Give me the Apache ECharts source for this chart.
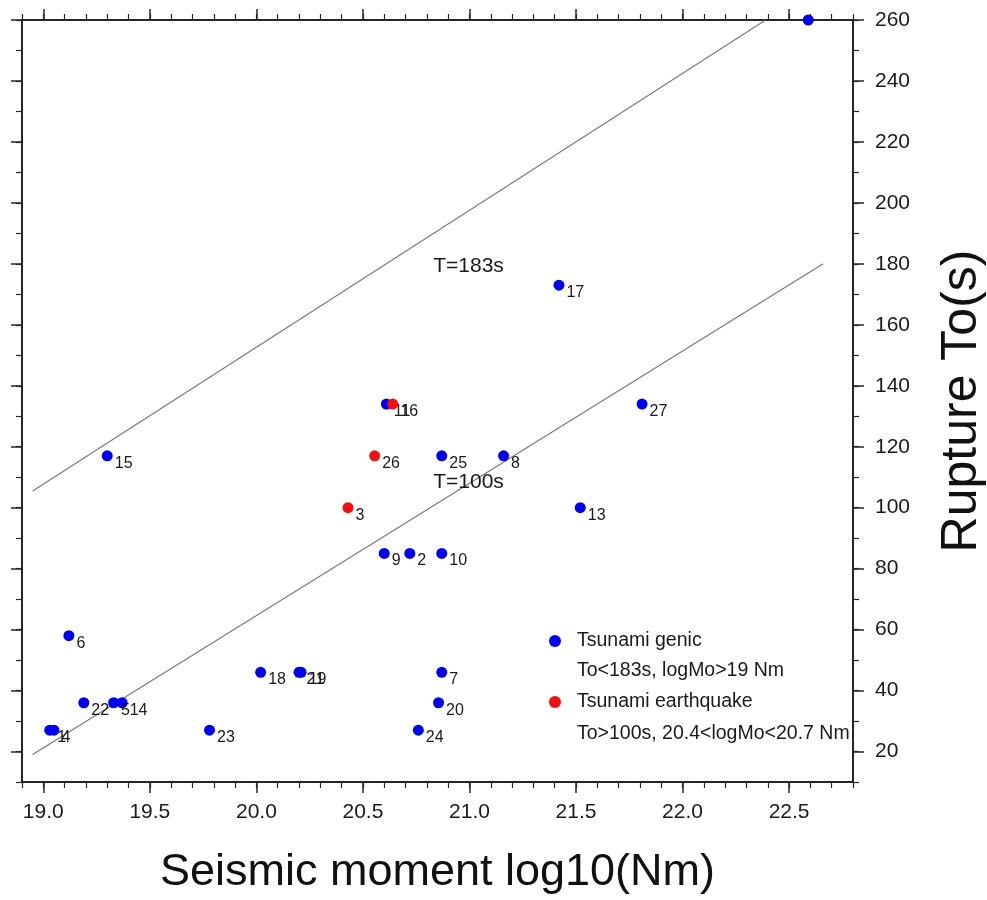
<!DOCTYPE html>
<html>
<head>
<meta charset="utf-8">
<script src="https://cdn.jsdelivr.net/npm/echarts@6/dist/echarts.min.js"></script>
<style>html,body{margin:0;padding:0;background:#fff}#c{width:987px;height:900px}</style>
</head>
<body>
<div id="c"></div>
<script>
// ---- data ----
var genicIds = ['1','2','4','5','6','7','8','9','10','11','12','13','14','15','17','18','19','20','21','22','23','24','25','27'];
var genicX   = [19.03,20.72,19.05,19.33,19.12,20.87,21.16,20.60,20.87,20.61,22.59,21.52,19.37,19.30,21.42,20.02,20.21,20.855,20.20,19.19,19.78,20.76,20.87,21.81];
var genicY   = [27,85,27,36,58,46,117,85,85,134,260,100,36,117,173,46,46,36,46,36,27,27,117,134];
var quakeIds = ['3','16','26'];
var quakeX   = [20.43,20.64,20.555];
var quakeY   = [100,134,117];
var line183X = [18.95,22.39];
var line183Y = [105.5,260];
var line100X = [18.95,22.66];
var line100Y = [19,180];
var lineLabels = ['T=183s','T=100s'];
var lineLabelX = [20.83,20.83];
var lineLabelY = [179.3,108.5];
var xMajorTicks = [19.0,19.5,20.0,20.5,21.0,21.5,22.0,22.5];
var yMajorTicks = [20,40,60,80,100,120,140,160,180,200,220,240,260];
var hiddenLabelIds = ['12'];
var legendNames = ['Tsunami genic','Tsunami earthquake'];
var legendSubs = ['To<183s, logMo>19 Nm','To>100s, 20.4<logMo<20.7 Nm'];

// ---- chart ----
var FONT = '"Liberation Sans", Arial, Helvetica, sans-serif';
var chart = echarts.init(document.getElementById('c'), null, {renderer:'canvas'});

function pts(ids, xs, ys){
  return ids.map(function(id,i){
    return {name:id, value:[xs[i], ys[i]], label:{show: hiddenLabelIds.indexOf(id) < 0}};
  });
}
function pairs(xs, ys){ return xs.map(function(x,i){return [x, ys[i]];}); }

var X_MIN = 18.9, X_MAX = 22.8, Y_MIN = 10, Y_MAX = 260;
var INK = '#262626';
var frame = {show:true, lineStyle:{color:INK, width:2}};
function xMajor(pos, labels){
  return {type:'value', position:pos, min:X_MIN, max:X_MAX, splitLine:{show:false},
    axisLine: frame,
    axisTick:{show:true, customValues:xMajorTicks, length:11, lineStyle:{color:INK, width:1.5}},
    axisLabel: labels ? {show:true, customValues:xMajorTicks, formatter:function(v){return v.toFixed(1);}, fontSize:21, color:'#1a1a1a', fontFamily:FONT, margin:20} : {show:false}
  };
}
function xMinor(pos){
  return {type:'value', position:pos, min:X_MIN, max:X_MAX, interval:0.1, splitLine:{show:false},
    axisLine:{show:false}, axisTick:{show:true, length:6, lineStyle:{color:INK, width:1.2}}, axisLabel:{show:false}};
}
function yMajor(pos, labels){
  return {type:'value', position:pos, min:Y_MIN, max:Y_MAX, splitLine:{show:false},
    axisLine: frame,
    axisTick:{show:true, customValues:yMajorTicks, length:11, lineStyle:{color:INK, width:1.5}},
    axisLabel: labels ? {show:true, customValues:yMajorTicks, fontSize:21, color:'#1a1a1a', fontFamily:FONT, margin:22} : {show:false}
  };
}
function yMinor(pos){
  return {type:'value', position:pos, min:Y_MIN, max:Y_MAX, interval:10, splitLine:{show:false},
    axisLine:{show:false}, axisTick:{show:true, length:6, lineStyle:{color:INK, width:1.2}}, axisLabel:{show:false}};
}

var xb = xMajor('bottom', true);
xb.name = 'Seismic moment log10(Nm)';
xb.nameLocation = 'middle';
xb.nameGap = 68;
xb.nameTextStyle = {fontSize:45, color:'#111', fontFamily:FONT};
var yr = yMajor('right', true);
yr.name = 'Rupture To(s)';
yr.nameLocation = 'middle';
yr.nameRotate = 90;
yr.nameGap = 84;
yr.nameTextStyle = {fontSize:50, color:'#111', fontFamily:FONT};

var pointLabel = {show:true, position:[13,5], align:'left', verticalAlign:'top', fontSize:16, color:'#1a1a1a', opacity:1, fontFamily:FONT,
  formatter:function(p){return p.name;}};

var option = {
  animation:false,
  backgroundColor:'#fff',
  grid:{left:22, right:134, top:20, bottom:118, containLabel:false, outerBoundsMode:'none'},
  xAxis:[xb, xMinor('bottom'), xMajor('top', false), xMinor('top')],
  yAxis:[yr, yMinor('right'), yMajor('left', false), yMinor('left')],
  legend:{
    data:legendNames, orient:'vertical', left:549, top:631, itemGap:41, padding:0,
    icon:'circle', itemWidth:12, itemHeight:12,
    textStyle:{fontSize:19.5, lineHeight:20, color:'#1a1a1a', fontFamily:FONT, padding:[0,0,0,11]}
  },
  graphic:[
    {type:'text', x:577, y:671, silent:true, style:{text:legendSubs[0], fontSize:19.5, fontFamily:FONT, fill:'#1a1a1a', verticalAlign:'middle'}},
    {type:'text', x:577, y:734, silent:true, style:{text:legendSubs[1], fontSize:19.5, fontFamily:FONT, fill:'#1a1a1a', verticalAlign:'middle'}}
  ],
  series:[
    {type:'line', name:'T183', data:pairs(line183X, line183Y), symbol:'none', silent:true, clip:true,
      lineStyle:{color:'#7a7a7a', width:1.2}, z:1},
    {type:'line', name:'T100', data:pairs(line100X, line100Y), symbol:'none', silent:true, clip:true,
      lineStyle:{color:'#7a7a7a', width:1.2}, z:1},
    {type:'scatter', name:'lineLabels', silent:true, symbolSize:0,
      data:lineLabels.map(function(t,i){return {name:t, value:[lineLabelX[i], lineLabelY[i]]};}),
      label:{show:true, position:[0,0], align:'left', verticalAlign:'middle', fontSize:21, color:'#1a1a1a', opacity:1, fontFamily:FONT,
        formatter:function(p){return p.name;}}, itemStyle:{opacity:1}, z:2},
    {type:'scatter', name:legendNames[0], data:pts(genicIds, genicX, genicY), symbol:'circle', symbolSize:11,
      itemStyle:{color:'#0000f0', opacity:1}, label:pointLabel, z:3},
    {type:'scatter', name:legendNames[1], data:pts(quakeIds, quakeX, quakeY), symbol:'circle', symbolSize:11,
      itemStyle:{color:'#f01010', opacity:1}, label:pointLabel, z:4}
  ]
};
chart.setOption(option);
</script>
</body>
</html>
